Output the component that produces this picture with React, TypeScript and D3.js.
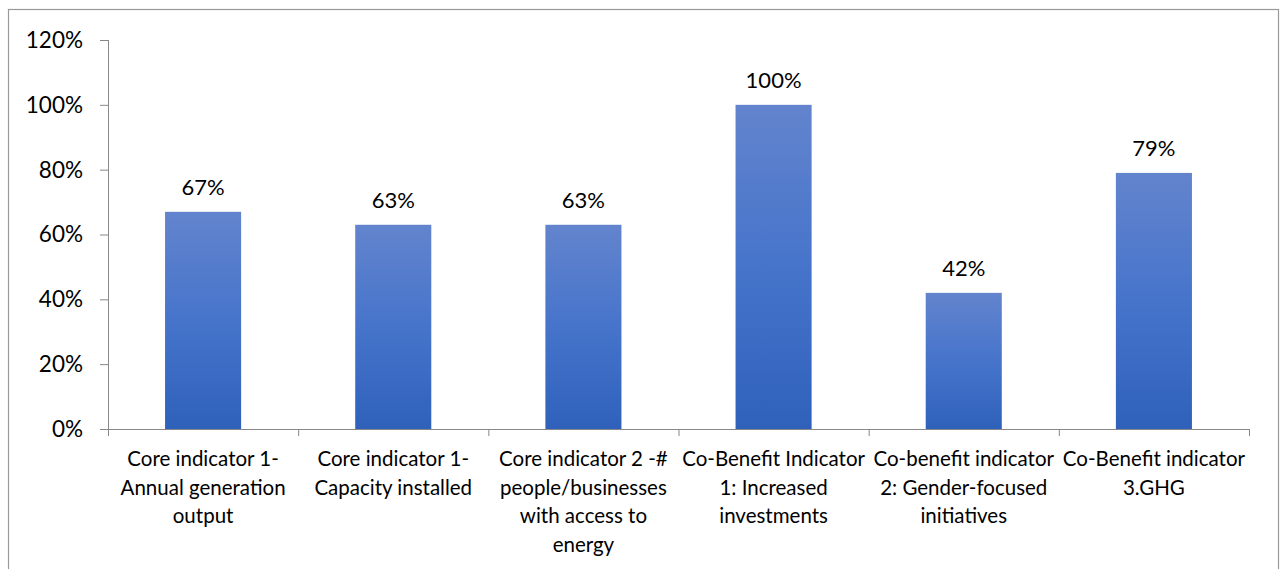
import React from "react";
import * as d3 from "d3";

const categories: string[][] = [
  ["Core indicator 1-", "Annual generation", "output"],
  ["Core indicator 1-", "Capacity installed"],
  ["Core indicator 2 -#", "people/businesses", "with access to", "energy"],
  ["Co-Benefit Indicator", "1: Increased", "investments"],
  ["Co-benefit indicator", "2: Gender-focused", "initiatives"],
  ["Co-Benefit indicator", "3.GHG"],
];
const values: number[] = [67, 63, 63, 100, 42, 79];
const yTicks: number[] = [0, 20, 40, 60, 80, 100, 120];

const W = 1283;
const H = 569;
const left = 108;
const right = 1249;
const top = 40;
const bottom = 429;
const font = "Lato, 'Carlito', Calibri, sans-serif";

export default function App() {
  const x = d3
    .scaleBand<number>()
    .domain(d3.range(categories.length))
    .range([left, right])
    .paddingInner(0.6)
    .paddingOuter(0.3);
  const step = (right - left) / categories.length;
  const y = d3.scaleLinear().domain([0, 120]).range([bottom, top]);

  return (
    <svg
      width={W}
      height={H}
      style={{ position: "absolute", left: 0, top: 0, background: "#fff" }}
      fontFamily={font}
    >
      <defs>
        <linearGradient id="barGrad" x1="0" y1="0" x2="0" y2="1">
          <stop offset="0%" stopColor="#6384cd" />
          <stop offset="50%" stopColor="#4674cb" />
          <stop offset="100%" stopColor="#2f61bb" />
        </linearGradient>
      </defs>
      <rect x={8.5} y={9.5} width={1270} height={H} fill="#fff" stroke="#999" strokeWidth={1.2} />
      {/* y axis */}
      <line x1={left + 0.5} x2={left + 0.5} y1={top} y2={bottom} stroke="#888" />
      {yTicks.map((t) => (
        <g key={t}>
          <line x1={left - 8} x2={left} y1={y(t) + 0.5} y2={y(t) + 0.5} stroke="#888" />
          <text x={83} y={y(t)} dy="0.35em" textAnchor="end" fontSize={22.5} fill="#000">
            {t}%
          </text>
        </g>
      ))}
      {/* x axis */}
      <line x1={left - 8} x2={right} y1={bottom + 0.5} y2={bottom + 0.5} stroke="#888" />
      {d3.range(categories.length + 1).map((i) => (
        <line
          key={i}
          x1={left + i * step + 0.5}
          x2={left + i * step + 0.5}
          y1={bottom}
          y2={bottom + 7}
          stroke="#888"
        />
      ))}
      {values.map((v, i) => (
        <g key={i}>
          <rect x={x(i)} y={y(v)} width={x.bandwidth()} height={bottom - y(v)} fill="url(#barGrad)" />
          <text
            x={(x(i) as number) + x.bandwidth() / 2}
            y={y(v) - 17}
            textAnchor="middle"
            fontSize={22}
            fill="#000"
          >
            {v}%
          </text>
        </g>
      ))}
      {categories.map((lines, i) => (
        <text
          key={i}
          x={left + (i + 0.5) * step}
          y={466}
          textAnchor="middle"
          fontSize={20.5}
          fill="#000"
        >
          {lines.map((l, j) => (
            <tspan key={j} x={left + (i + 0.5) * step} dy={j === 0 ? 0 : 28.5}>
              {l}
            </tspan>
          ))}
        </text>
      ))}
    </svg>
  );
}
